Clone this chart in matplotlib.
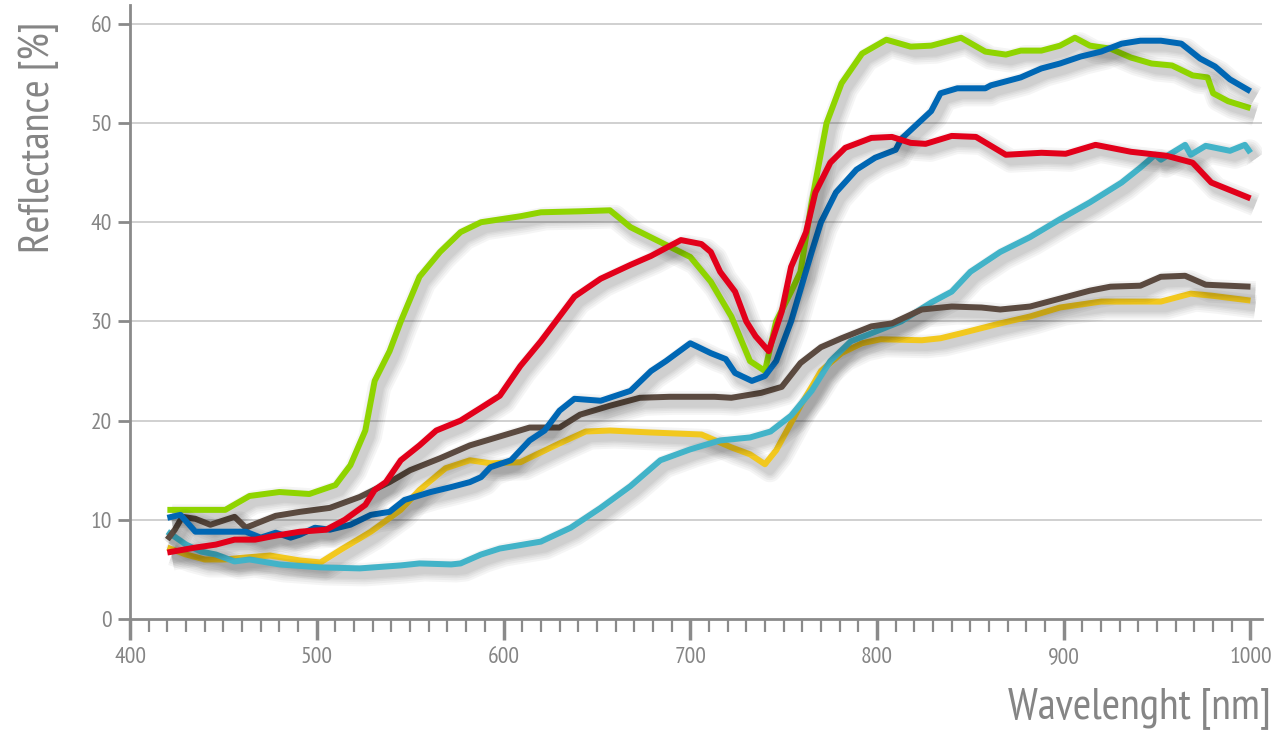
import numpy as np
import matplotlib.pyplot as plt
import matplotlib.patheffects as pe
from matplotlib.ticker import MultipleLocator

# ── 資料：反射率曲線 ─────────────────────────────────────────────────
green_wl = [420, 451, 464, 480, 496, 510, 518, 526, 531, 539, 545, 555, 566, 577, 588, 609, 620, 641, 657,
            668, 684, 700, 711, 722, 732, 740, 746, 754, 759, 765, 773, 781, 792, 805, 818, 829, 845, 858,
            869, 877, 888, 898, 906, 914, 925, 936, 947, 958, 969, 977, 980, 988, 1000]
green_r = [11.0, 11.0, 12.4, 12.8, 12.6, 13.5, 15.5, 19.0, 24.0, 27.0, 30.0, 34.5, 37.0, 39.0, 40.0, 40.6,
           41.0, 41.1, 41.2, 39.5, 38.0, 36.5, 34.0, 30.5, 26.0, 25.0, 30.0, 33.0, 35.0, 42.0, 50.0, 54.0,
           57.0, 58.4, 57.7, 57.8, 58.6, 57.2, 56.9, 57.3, 57.3, 57.8, 58.6, 57.8, 57.5, 56.6, 56.0, 55.8,
           54.8, 54.6, 53.0, 52.2, 51.5]

blue_wl = [420, 427, 435, 451, 462, 470, 478, 486, 491, 499, 507, 518, 529, 539, 547, 561, 572, 582, 588,
           593, 604, 614, 622, 630, 638, 652, 668, 679, 687, 700, 711, 719, 724, 733, 740, 746, 754, 765,
           770, 778, 789, 799, 810, 813, 821, 829, 834, 843, 858, 861, 877, 888, 898, 909, 920, 931, 941,
           952, 963, 973, 981, 989, 1000]
blue_r = [10.2, 10.5, 8.8, 8.8, 8.8, 8.2, 8.7, 8.2, 8.5, 9.2, 9.0, 9.5, 10.5, 10.8, 12.0, 12.8, 13.3, 13.8,
          14.3, 15.3, 16.0, 18.0, 19.0, 21.0, 22.2, 22.0, 23.0, 25.0, 26.0, 27.8, 26.8, 26.2, 24.8, 24.0,
          24.5, 26.0, 30.0, 37.0, 40.0, 43.0, 45.3, 46.5, 47.3, 48.4, 49.8, 51.2, 53.0, 53.5, 53.5, 53.8,
          54.6, 55.5, 56.0, 56.7, 57.2, 58.0, 58.3, 58.3, 58.0, 56.5, 55.7, 54.4, 53.2]

red_wl = [420, 435, 446, 456, 467, 478, 491, 505, 515, 526, 531, 537, 545, 555, 564, 577, 588, 598, 609,
          620, 630, 638, 652, 668, 679, 695, 706, 711, 716, 724, 730, 735, 742, 749, 754, 762, 767, 775,
          783, 797, 808, 818, 826, 840, 853, 869, 888, 901, 917, 936, 955, 969, 979, 1000]
red_r = [6.7, 7.2, 7.5, 8.0, 8.0, 8.4, 8.8, 9.0, 10.0, 11.5, 13.0, 13.8, 16.0, 17.5, 19.0, 20.0, 21.3,
         22.5, 25.5, 28.0, 30.5, 32.5, 34.3, 35.7, 36.6, 38.2, 37.8, 37.0, 35.0, 33.0, 30.0, 28.5, 27.0,
         31.0, 35.5, 39.0, 43.0, 46.0, 47.5, 48.5, 48.6, 48.0, 47.9, 48.7, 48.6, 46.8, 47.0, 46.9, 47.8,
         47.1, 46.7, 46.0, 44.0, 42.4]

cyan_wl = [420, 430, 438, 446, 456, 464, 480, 502, 523, 545, 555, 572, 577, 588, 598, 620, 636, 652, 668,
           684, 700, 716, 732, 743, 754, 765, 775, 786, 797, 813, 829, 840, 850, 866, 882, 898, 914, 931,
           941, 949, 952, 965, 968, 976, 989, 997, 1000]
cyan_r = [8.8, 7.5, 6.8, 6.5, 5.8, 6.0, 5.5, 5.2, 5.1, 5.4, 5.6, 5.5, 5.6, 6.5, 7.1, 7.8, 9.2, 11.2, 13.4,
          16.0, 17.1, 18.0, 18.3, 18.9, 20.5, 23.0, 26.0, 28.0, 28.8, 30.0, 31.9, 33.0, 35.0, 37.0, 38.5,
          40.3, 42.0, 44.0, 45.5, 46.8, 46.3, 47.8, 46.8, 47.7, 47.2, 47.8, 47.0]

brown_wl = [420, 424, 428, 435, 443, 456, 462, 470, 478, 491, 507, 523, 539, 550, 566, 582, 598, 614, 630,
            641, 657, 673, 689, 713, 722, 738, 749, 759, 770, 781, 797, 808, 824, 840, 856, 866, 882, 898,
            914, 925, 941, 952, 965, 976, 1000]
brown_r = [8.0, 9.0, 10.3, 10.1, 9.5, 10.3, 9.2, 9.8, 10.4, 10.8, 11.2, 12.3, 13.8, 15.0, 16.2, 17.5,
           18.4, 19.3, 19.3, 20.6, 21.5, 22.3, 22.4, 22.4, 22.3, 22.8, 23.4, 25.8, 27.4, 28.3, 29.5, 29.8,
           31.2, 31.5, 31.4, 31.2, 31.5, 32.3, 33.1, 33.5, 33.6, 34.5, 34.6, 33.7, 33.5]

yellow_wl = [420, 430, 440, 451, 462, 475, 491, 502, 513, 529, 545, 555, 569, 582, 593, 609, 620, 630, 644,
             657, 679, 706, 722, 732, 740, 746, 759, 770, 781, 792, 802, 824, 834, 845, 866, 882, 898, 920,
             952, 968, 979, 1000]
yellow_r = [7.2, 6.5, 6.0, 6.0, 6.2, 6.4, 5.9, 5.7, 7.0, 8.8, 11.0, 13.0, 15.2, 16.0, 15.7, 15.8, 16.8,
            17.7, 18.9, 19.0, 18.8, 18.6, 17.3, 16.6, 15.6, 17.0, 21.5, 25.0, 26.8, 27.8, 28.2, 28.1, 28.3,
            28.8, 29.8, 30.5, 31.4, 32.0, 32.0, 32.8, 32.6, 32.1]

# 繪製順序：先畫在下方的曲線
series = [
    (yellow_wl, yellow_r, '#f2c81e'),
    (cyan_wl, cyan_r, '#42b3c8'),
    (brown_wl, brown_r, '#5b4a40'),
    (green_wl, green_r, '#8fd400'),
    (blue_wl, blue_r, '#0067b4'),
    (red_wl, red_r, '#e2001a'),
]

TEXT_GRAY = '#858585'
plt.rcParams['font.family'] = ['PT Sans Narrow', 'DejaVu Sans']

fig = plt.figure(figsize=(12.86, 7.34), dpi=100)
ax = fig.add_axes([0.1011, 0.1567, 0.8800, 0.8365])

# 模糊陰影：多層不同寬度的半透明陰影疊加
shadow = [pe.SimpleLineShadow(offset=(3.5, -4.5), shadow_color='black', alpha=0.038, linewidth=w)
          for w in (17, 14, 11, 8.5, 6.5)]

for wl, r, color in series:
    ax.plot(wl, r, color=color, linewidth=4.3, solid_capstyle='butt', solid_joinstyle='round',
            path_effects=shadow + [pe.Normal()], zorder=3)

ax.set_xlim(400, 1006)
ax.set_ylim(0, 61.9)

ax.set_yticks([0, 10, 20, 30, 40, 50, 60])
ax.set_xticks([400, 500, 600, 700, 800, 900, 1000])
ax.xaxis.set_minor_locator(MultipleLocator(10))

for y in (10, 20, 30, 40, 50, 60):
    ax.axhline(y, color='#c8c8c8', linewidth=1.2, zorder=1)

for side in ('top', 'right'):
    ax.spines[side].set_visible(False)
for side in ('left', 'bottom'):
    ax.spines[side].set_color('#8a8a8a')
    ax.spines[side].set_linewidth(2)

ax.tick_params(axis='y', which='major', direction='out', length=9, width=2, color='#8a8a8a',
               labelsize=17, labelcolor=TEXT_GRAY, pad=4)
ax.tick_params(axis='x', which='major', direction='out', length=15, width=2.5, color='#8a8a8a',
               labelsize=17, labelcolor=TEXT_GRAY, pad=5)
ax.tick_params(axis='x', which='minor', direction='out', length=9, width=1.6, color='#8a8a8a')

fig.text(0.030, 0.813, 'Reflectance [%]', rotation=90, ha='center', va='center',
         fontsize=31, color=TEXT_GRAY)
fig.text(0.988, 0.035, 'Wavelenght [nm]', ha='right', va='center', fontsize=32, color=TEXT_GRAY)

fig.savefig('out.png', dpi=100, facecolor='white')
